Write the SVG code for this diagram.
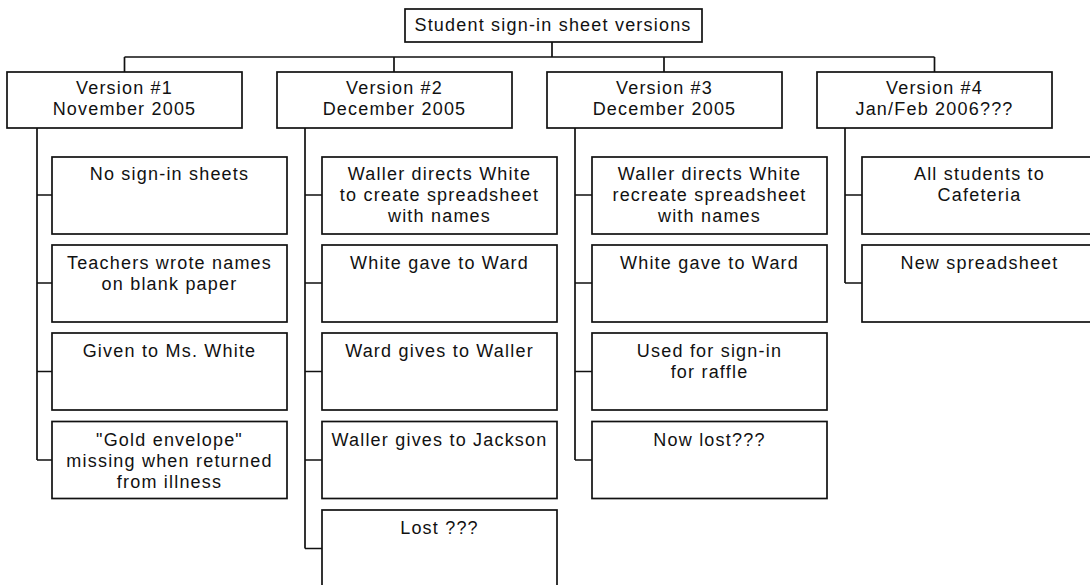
<svg xmlns="http://www.w3.org/2000/svg" width="1090" height="585" viewBox="0 0 1090 585">
<style>
  rect.b { fill: #ffffff; stroke: #111; stroke-width: 1.7; }
  text { font-family: "Liberation Sans", Arial, sans-serif; font-size: 18px; fill: #111; text-anchor: middle; letter-spacing: 1.2px; }
  .c { fill: none; stroke: #111; stroke-width: 1.7; }
</style>
<rect width="1090" height="585" fill="#ffffff"/>
<g id="connectors">
  <path class="c" d="M552 42 V57 M124.5 57 H934.5 M124.5 57 V72 M394 57 V72 M664 57 V72 M934.5 57 V72"/>
  <path class="c" d="M37 128 V460 M37 195 H52 M37 283 H52 M37 371.5 H52 M37 460 H52"/>
  <path class="c" d="M305 128 V548.5 M305 195 H322 M305 283 H322 M305 371.5 H322 M305 460 H322 M305 548.5 H322"/>
  <path class="c" d="M575 128 V460 M575 195 H592 M575 283 H592 M575 371.5 H592 M575 460 H592"/>
  <path class="c" d="M845 128 V283 M845 195 H862 M845 283 H862"/>
</g>
<g id="root"><rect class="b" x="405" y="9" width="297" height="33"/><text x="553" y="31">Student sign-in sheet versions</text></g>
<g id="v1"><rect class="b" x="7" y="72" width="235" height="56"/><text x="124.5" y="94">Version #1</text><text x="124.5" y="115">November 2005</text></g>
<g id="v2"><rect class="b" x="277" y="72" width="235" height="56"/><text x="394.5" y="94">Version #2</text><text x="394.5" y="115">December 2005</text></g>
<g id="v3"><rect class="b" x="547" y="72" width="235" height="56"/><text x="664.5" y="94">Version #3</text><text x="664.5" y="115">December 2005</text></g>
<g id="v4"><rect class="b" x="817" y="72" width="235" height="56"/><text x="934.5" y="94">Version #4</text><text x="934.5" y="115">Jan/Feb 2006???</text></g>

<g id="c1a"><rect class="b" x="52" y="157" width="235" height="77"/><text x="169.5" y="180">No sign-in sheets</text></g>
<g id="c1b"><rect class="b" x="52" y="245" width="235" height="77"/><text x="169.5" y="268.5">Teachers wrote names</text><text x="169.5" y="289.5">on blank paper</text></g>
<g id="c1c"><rect class="b" x="52" y="333" width="235" height="77"/><text x="169.5" y="357">Given to Ms. White</text></g>
<g id="c1d"><rect class="b" x="52" y="421.5" width="235" height="77"/><text x="169.5" y="445.5">"Gold envelope"</text><text x="169.5" y="466.5">missing when returned</text><text x="169.5" y="487.5">from illness</text></g>

<g id="c2a"><rect class="b" x="322" y="157" width="235" height="77"/><text x="439.5" y="180">Waller directs White</text><text x="439.5" y="201">to create spreadsheet</text><text x="439.5" y="222">with names</text></g>
<g id="c2b"><rect class="b" x="322" y="245" width="235" height="77"/><text x="439.5" y="268.5">White gave to Ward</text></g>
<g id="c2c"><rect class="b" x="322" y="333" width="235" height="77"/><text x="439.5" y="357">Ward gives to Waller</text></g>
<g id="c2d"><rect class="b" x="322" y="421.5" width="235" height="77"/><text x="439.5" y="445.5">Waller gives to Jackson</text></g>
<g id="c2e"><rect class="b" x="322" y="510" width="235" height="80"/><text x="439.5" y="534">Lost ???</text></g>

<g id="c3a"><rect class="b" x="592" y="157" width="235" height="77"/><text x="709.5" y="180">Waller directs White</text><text x="709.5" y="201">recreate spreadsheet</text><text x="709.5" y="222">with names</text></g>
<g id="c3b"><rect class="b" x="592" y="245" width="235" height="77"/><text x="709.5" y="268.5">White gave to Ward</text></g>
<g id="c3c"><rect class="b" x="592" y="333" width="235" height="77"/><text x="709.5" y="357">Used for sign-in</text><text x="709.5" y="378">for raffle</text></g>
<g id="c3d"><rect class="b" x="592" y="421.5" width="235" height="77"/><text x="709.5" y="445.5">Now lost???</text></g>

<g id="c4a"><rect class="b" x="862" y="157" width="235" height="77"/><text x="979.5" y="180">All students to</text><text x="979.5" y="201">Cafeteria</text></g>
<g id="c4b"><rect class="b" x="862" y="245" width="235" height="77"/><text x="979.5" y="268.5">New spreadsheet</text></g>
</svg>
